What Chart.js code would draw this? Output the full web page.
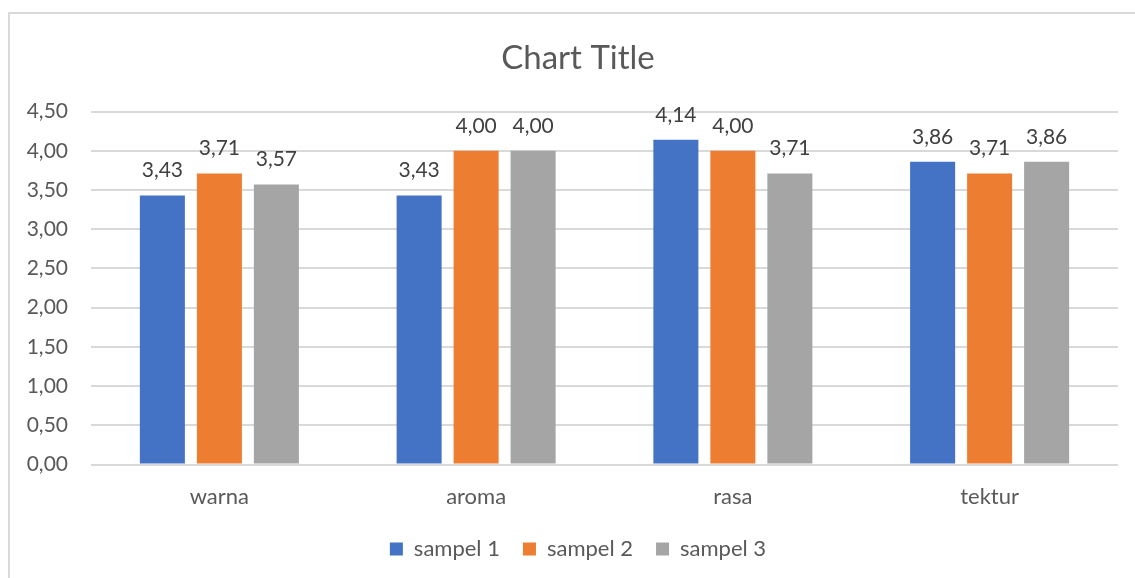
<!DOCTYPE html>
<html>
<head>
<meta charset="utf-8">
<script src="https://cdn.jsdelivr.net/npm/chart.js@4/dist/chart.umd.min.js"></script>
<style>
  html, body { margin: 0; padding: 0; background: #fff; overflow: hidden; }
  #frame { position: absolute; left: 8px; top: 12px; width: 1300px; height: 800px;
           border: 2px solid #d9d9d9; box-sizing: border-box; }
  #wrap { position: absolute; left: 0; top: 0; width: 1156px; height: 578px; }
</style>
</head>
<body>
<div id="frame"></div>
<div id="wrap"><canvas id="c" width="1156" height="578"></canvas></div>
<script>
const categories = ['warna', 'aroma', 'rasa', 'tektur'];
const sampel1 = [3.43, 3.43, 4.14, 3.86];
const sampel2 = [3.71, 4.00, 4.00, 3.71];
const sampel3 = [3.57, 4.00, 3.71, 3.86];
const seriesNames = ['sampel 1', 'sampel 2', 'sampel 3'];
const seriesColors = ['#4472C4', '#ED7D31', '#A5A5A5'];

const FONT = 'Lato, "Open Sans", sans-serif';
const fmt = v => v.toFixed(2).replace('.', ',');

// Value labels drawn above each bar
const valueLabels = {
  id: 'valueLabels',
  afterDatasetsDraw(chart) {
    const ctx = chart.ctx;
    ctx.save();
    ctx.font = '21px ' + FONT;
    ctx.fillStyle = '#404040';
    ctx.textAlign = 'center';
    ctx.textBaseline = 'middle';
    chart.data.datasets.forEach((ds, i) => {
      chart.getDatasetMeta(i).data.forEach((bar, j) => {
        ctx.fillText(fmt(ds.data[j]), bar.x, bar.y - 25);
      });
    });
    ctx.restore();
  }
};

new Chart(document.getElementById('c'), {
  type: 'bar',
  data: {
    labels: categories,
    datasets: [sampel1, sampel2, sampel3].map((d, i) => ({
      label: seriesNames[i],
      data: d,
      backgroundColor: seriesColors[i],
      borderWidth: 0,
      categoryPercentage: 0.666,
      barPercentage: 0.79
    }))
  },
  options: {
    responsive: false,
    animation: false,
    devicePixelRatio: 1,
    layout: { padding: { left: 0, right: 0, top: 0, bottom: 8 } },
    plugins: {
      title: {
        display: true,
        text: 'Chart Title',
        color: '#595959',
        font: { family: FONT, size: 33, weight: 'normal' },
        padding: { top: 39, bottom: 33 }
      },
      legend: {
        position: 'bottom',
        labels: {
          color: '#595959',
          font: { family: FONT, size: 22 },
          boxWidth: 13,
          boxHeight: 13,
          padding: 23
        }
      },
      tooltip: { enabled: false }
    },
    scales: {
      x: {
        afterFit(scale) { scale.height -= 14; },
        grid: { display: false, drawTicks: false },
        border: { display: false },
        ticks: { color: '#595959', font: { family: FONT, size: 22 }, padding: 19 }
      },
      y: {
        min: 0,
        max: 4.5,
        afterFit(scale) { scale.width = 91; },
        grid: { color: '#d9d9d9', lineWidth: 2, drawTicks: false },
        border: { display: false },
        ticks: {
          stepSize: 0.5,
          color: '#595959',
          font: { family: FONT, size: 21 },
          padding: 23,
          callback: v => fmt(v)
        }
      },
      // empty right-hand margin beside the plot area
      yRight: {
        position: 'right',
        afterFit(scale) { scale.width = 38; },
        grid: { display: false, drawTicks: false },
        border: { display: false },
        ticks: { display: false }
      }
    }
  },
  plugins: [valueLabels]
});
</script>
</body>
</html>
